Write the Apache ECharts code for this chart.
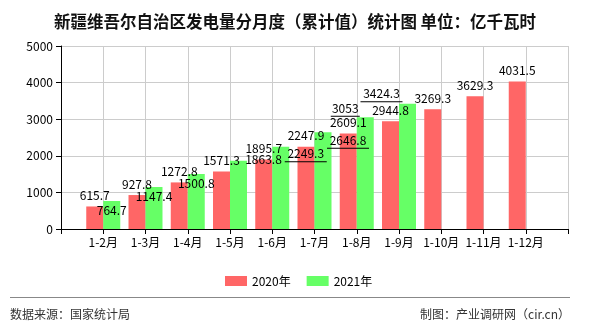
<!DOCTYPE html>
<html>
<head>
<meta charset="utf-8">
<script src="https://cdn.jsdelivr.net/npm/echarts@6/dist/echarts.min.js"></script>
<style>html,body{margin:0;padding:0;background:#fff}#c{width:590px;height:330px}</style>
</head>
<body>
<div id="c"></div>
<script>
var categories = ['1-2月','1-3月','1-4月','1-5月','1-6月','1-7月','1-8月','1-9月','1-10月','1-11月','1-12月'];
var values2020 = [615.7, 927.8, 1272.8, 1571.3, 1895.7, 2247.9, 2609.1, 2944.8, 3269.3, 3629.3, 4031.5];
var values2021 = [764.7, 1147.4, 1500.8, 1863.8, 2249.3, 2646.8, 3053, 3424.3];
var yTicks = [0, 1000, 2000, 3000, 4000, 5000];
var seriesNames = ['2020年', '2021年'];
var sourceText = '数据来源：国家统计局';
var creditText = '制图：产业调研网（cir.cn）';

// padded category axis: empty slot at both ends
var axisCats = [''].concat(categories).concat(['']);
function pad(arr) {
  var out = ['-'];
  for (var i = 0; i < categories.length; i++) out.push(i < arr.length ? arr[i] : '-');
  out.push('-');
  return out;
}

// label nudges for overlapping 2021 labels (index in categories): [dx, dy, underline]
var nudges = { 3: [25, -10, false], 4: [25, -2, true], 5: [25, -1, true], 6: [-20, -18, true], 7: [-26, -19, true] };

var font = 'Noto Sans CJK SC, sans-serif';
var chart = echarts.init(document.getElementById('c'));
chart.setOption({
  animation: false,
  title: {
    text: '新疆维吾尔自治区发电量分月度（累计值）统计图 单位：亿千瓦时',
    left: 'center', top: 8,
    textStyle: { fontSize: 16.5, fontWeight: 'bold', color: '#111', fontFamily: font }
  },
  legend: {
    data: seriesNames,
    left: 220, top: 270,
    itemWidth: 22, itemHeight: 10, itemGap: 16,
    textStyle: { fontSize: 12, color: '#000', fontFamily: font },
    icon: 'rect'
  },
  graphic: [
    { type: 'line', shape: { x1: 10, y1: 297.5, x2: 570, y2: 297.5 }, style: { stroke: '#888', lineWidth: 1 } },
    { type: 'text', left: 10, top: 308, style: { text: sourceText, fill: '#333', fontSize: 12, fontFamily: font } },
    { type: 'text', right: 20, top: 308, style: { text: creditText, fill: '#333', fontSize: 12, fontFamily: font } }
  ],
  grid: { left: 61, right: 22, top: 46, bottom: 101, containLabel: false },
  xAxis: {
    type: 'category',
    data: axisCats,
    boundaryGap: false,
    axisLine: { lineStyle: { color: '#000', width: 1 } },
    axisTick: { show: true, interval: 0, length: 5, lineStyle: { color: '#000' } },
    axisLabel: { interval: 0, color: '#000', fontSize: 12, margin: 7, fontFamily: font },
    splitLine: { show: true, interval: 0, lineStyle: { color: '#cccccc' } }
  },
  yAxis: {
    type: 'value',
    min: yTicks[0], max: yTicks[yTicks.length - 1], interval: 1000,
    axisLine: { show: true, lineStyle: { color: '#000' } },
    axisTick: { show: true, length: 5, lineStyle: { color: '#000' } },
    axisLabel: { color: '#000', fontSize: 12, margin: 8, fontFamily: font, formatter: function (v) { return String(v); } },
    splitLine: { show: true, lineStyle: { color: '#cccccc' } }
  },
  series: [
    {
      name: seriesNames[0], type: 'bar', data: pad(values2020),
      barWidth: 17, barGap: '0%',
      itemStyle: { color: '#FF6666' },
      label: { show: true, position: 'top', distance: 5, color: '#000', fontSize: 12, fontFamily: font }
    },
    {
      name: seriesNames[1], type: 'bar', data: pad(values2021),
      barWidth: 17, barGap: '0%',
      itemStyle: { color: '#66FF66' },
      label: {
        show: true, position: 'insideTop', distance: 2, color: '#000', fontSize: 12, fontFamily: font,
        formatter: function (p) {
          var n = nudges[p.dataIndex - 1];
          var s = String(p.value);
          if (n && n[2]) return '{v|' + s + '}\n' + (s.length > 4 ? '{u|}' : '{w|}');
          return '{v|' + s + '}';
        },
        rich: {
          v: { fontSize: 12, color: '#000', fontFamily: font, lineHeight: 14 },
          u: { width: 42, height: 1, lineHeight: 2, backgroundColor: '#000' },
          w: { width: 29, height: 1, lineHeight: 2, backgroundColor: '#000' }
        }
      },
      labelLayout: function (p) {
        var n = nudges[p.dataIndex - 1];
        if (!n) return {};
        return { dx: n[0], dy: n[1] };
      }
    }
  ]
});
</script>
</body>
</html>
